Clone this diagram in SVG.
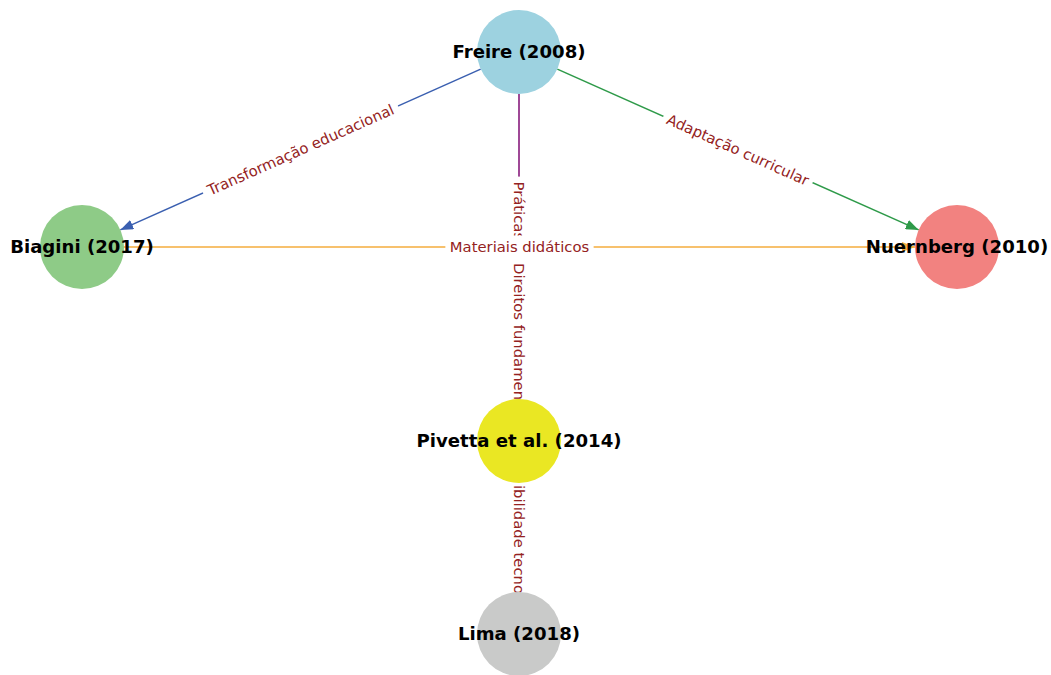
<svg xmlns="http://www.w3.org/2000/svg" width="1051" height="675" viewBox="0 0 1051 675">
<style>
.edge{fill:none;stroke-width:1.5}
.lbox{fill:#ffffff;stroke:#ffffff;stroke-width:1}
.elabel{font-family:"DejaVu Sans","Liberation Sans",sans-serif;font-size:14.8px;fill:#942222;dominant-baseline:central}
.mid{text-anchor:middle}
.nlabel{font-family:"DejaVu Sans","Liberation Sans",sans-serif;font-size:18.1px;font-weight:bold;fill:#000000;text-anchor:middle;dominant-baseline:central}
</style>
<defs>
<marker id="arr-blue" viewBox="0 0 13 10" refX="13" refY="5" markerWidth="13" markerHeight="10" markerUnits="userSpaceOnUse" orient="auto"><path d="M0,0 L13,5 L0,10 z" fill="#3a5fb0"/></marker>
<marker id="arr-green" viewBox="0 0 13 10" refX="13" refY="5" markerWidth="13" markerHeight="10" markerUnits="userSpaceOnUse" orient="auto"><path d="M0,0 L13,5 L0,10 z" fill="#2e9a49"/></marker>
<marker id="arr-orange" viewBox="0 0 13 10" refX="13" refY="5" markerWidth="13" markerHeight="10" markerUnits="userSpaceOnUse" orient="auto"><path d="M0,0 L13,5 L0,10 z" fill="#f5ac3c"/></marker>
<marker id="arr-purple" viewBox="0 0 13 10" refX="13" refY="5" markerWidth="13" markerHeight="10" markerUnits="userSpaceOnUse" orient="auto"><path d="M0,0 L13,5 L0,10 z" fill="#993d8f"/></marker>
</defs>
<rect x="0" y="0" width="1051" height="675" fill="#ffffff"/>
<g id="connectors">
  <path class="edge" d="M519,94 L519,592" stroke="#993d8f" marker-end="url(#arr-purple)"/>
  <path class="edge" d="M519,483 L519,592" stroke="#993d8f" marker-end="url(#arr-purple)"/>
  <path class="edge" d="M519,94 L519,399" stroke="#993d8f" marker-end="url(#arr-purple)"/>
  <path class="edge" d="M480.7,69.1 L120.3,229.9" stroke="#3a5fb0" marker-end="url(#arr-blue)"/>
  <path class="edge" d="M557.3,69.1 L918.7,229.9" stroke="#2e9a49" marker-end="url(#arr-green)"/>
  <path class="edge" d="M124,247 L915,247" stroke="#f5ac3c" marker-end="url(#arr-orange)"/>
  <g transform="translate(519,181.5) rotate(90)">
    <rect class="lbox" x="-4.4" y="-13" width="143.6" height="26" rx="4"/>
    <text class="elabel" x="0" y="0">Práticas</text>
  </g>
  <g transform="translate(519.5,246.5)">
    <rect class="lbox" x="-73.6" y="-10.5" width="147.2" height="21" rx="4"/>
    <text class="elabel mid" x="0" y="0">Materiais didáticos</text>
  </g>
  <g transform="translate(519,263) rotate(90)">
    <rect class="lbox" x="-4.4" y="-13" width="171.8" height="26" rx="4"/>
    <text class="elabel" x="0" y="0">Direitos fundamen</text>
  </g>
  <g transform="translate(519,485) rotate(90)">
    <rect class="lbox" x="-47" y="-13" width="203" height="26" rx="4"/>
    <text class="elabel" x="0" y="0">ibilidade tecno</text>
  </g>
  <g transform="translate(300.5,149.5) rotate(-24.04)">
    <rect class="lbox" x="-106.2" y="-13" width="212.5" height="26" rx="4"/>
    <text class="elabel mid" x="0" y="0">Transformação educacional</text>
  </g>
  <g transform="translate(738,149.5) rotate(24.04)">
    <rect class="lbox" x="-81.1" y="-13" width="162.2" height="26" rx="4"/>
    <text class="elabel mid" x="0" y="0">Adaptação curricular</text>
  </g>
</g>
<g id="node-freire">
  <circle cx="519" cy="52" r="42" fill="#9dd2e0"/>
  <text class="nlabel" x="519" y="51.5">Freire (2008)</text>
</g>
<g id="node-biagini">
  <circle cx="82" cy="247" r="42" fill="#8ecb87"/>
  <text class="nlabel" x="82" y="246.5">Biagini (2017)</text>
</g>
<g id="node-nuernberg">
  <circle cx="957" cy="247" r="42" fill="#f28280"/>
  <text class="nlabel" x="957" y="246.5">Nuernberg (2010)</text>
</g>
<g id="node-pivetta">
  <circle cx="519" cy="441" r="42" fill="#eae723"/>
  <text class="nlabel" x="519" y="440.5">Pivetta et al. (2014)</text>
</g>
<g id="node-lima">
  <circle cx="519" cy="634" r="42" fill="#c9cac9"/>
  <text class="nlabel" x="519" y="633.5">Lima (2018)</text>
</g>
</svg>
